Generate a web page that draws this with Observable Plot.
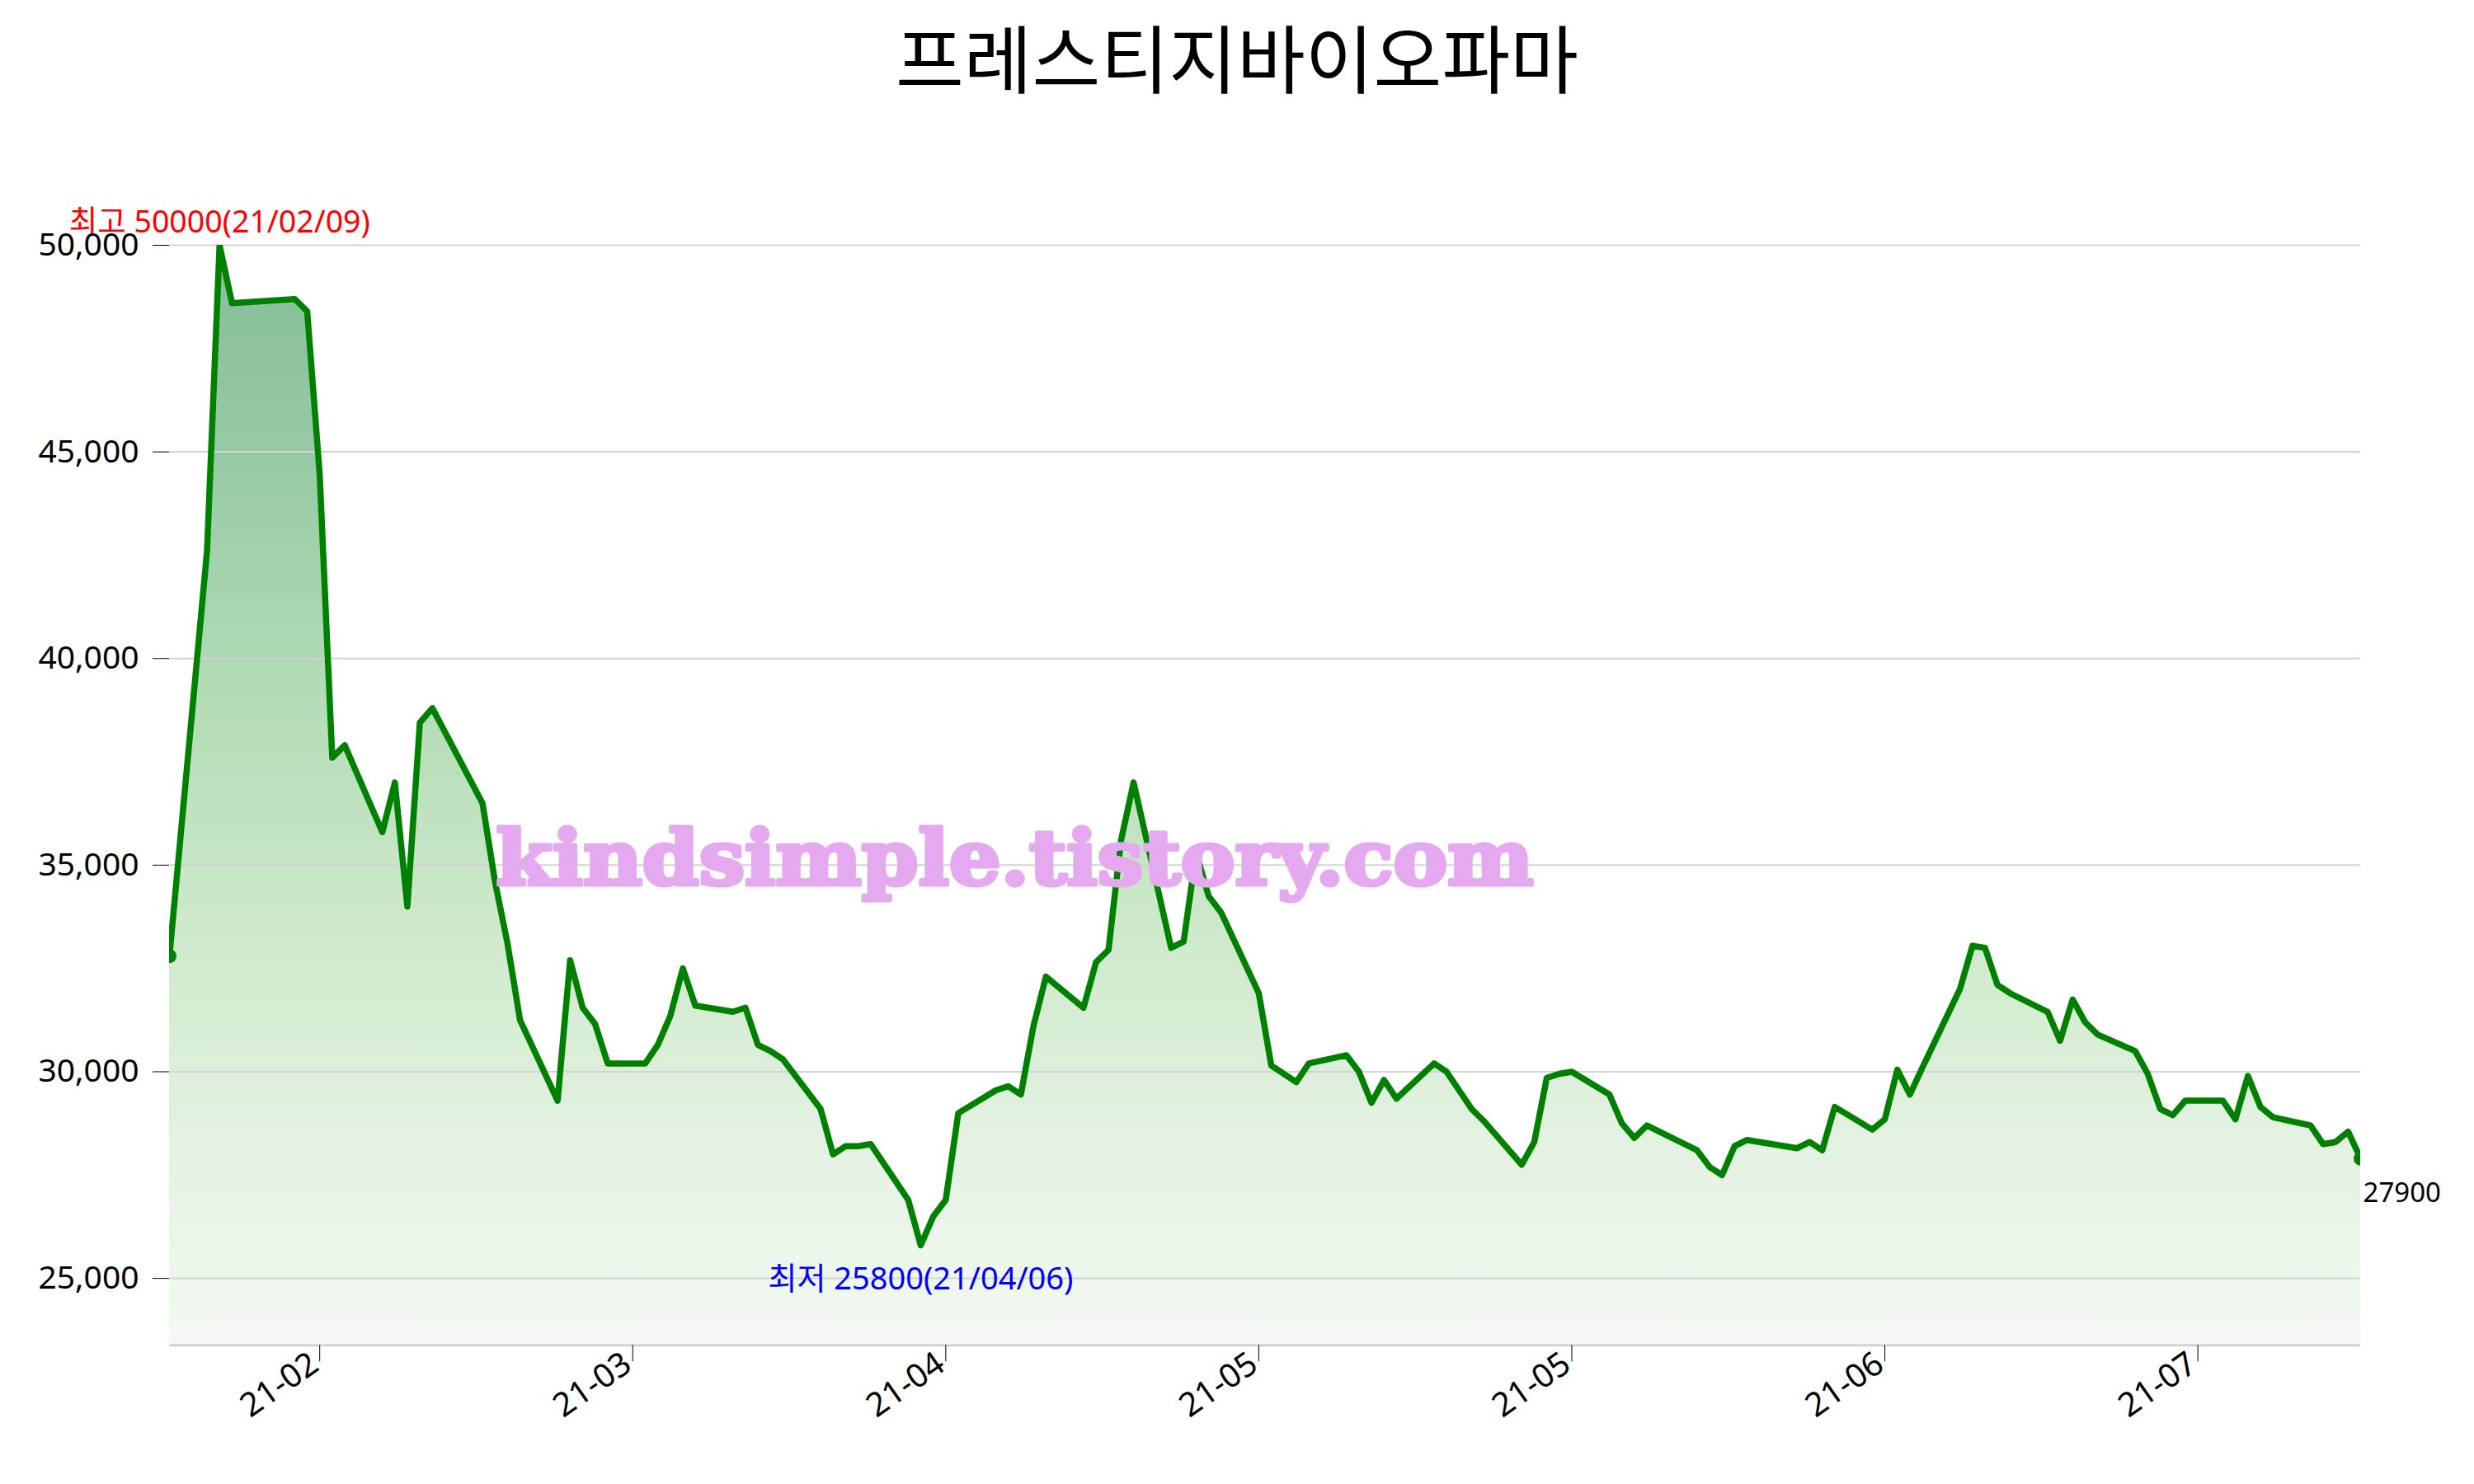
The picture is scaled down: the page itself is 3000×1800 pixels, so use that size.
<!DOCTYPE html>
<html>
<head>
<meta charset="utf-8">
<script src="https://cdn.jsdelivr.net/npm/d3@7"></script>
<script src="https://cdn.jsdelivr.net/npm/@observablehq/plot@0.6"></script>
<style>
  body { margin: 0; background: white; width: 3000px; }
  #title { height: 150px; line-height: 134px; text-align: center; font-size: 90px;
           font-family: "Noto Sans CJK KR", "Noto Sans", sans-serif; color: black; }
  #chart svg { display: block; }
</style>
</head>
<body>
<div id="title">프레스티지바이오파마</div>
<div id="chart"></div>
<script>
// ---- data ----
const dates = [
  "2021-02-05","2021-02-08","2021-02-09","2021-02-10","2021-02-15","2021-02-16","2021-02-17","2021-02-18","2021-02-19",
  "2021-02-22","2021-02-23","2021-02-24","2021-02-25","2021-02-26",
  "2021-03-02","2021-03-03","2021-03-04","2021-03-05","2021-03-08","2021-03-09","2021-03-10","2021-03-11","2021-03-12",
  "2021-03-15","2021-03-16","2021-03-17","2021-03-18","2021-03-19","2021-03-22","2021-03-23","2021-03-24","2021-03-25",
  "2021-03-26","2021-03-29","2021-03-30","2021-03-31",
  "2021-04-01","2021-04-02","2021-04-05","2021-04-06","2021-04-07","2021-04-08","2021-04-09","2021-04-12","2021-04-13",
  "2021-04-14","2021-04-15","2021-04-16","2021-04-19","2021-04-20","2021-04-21","2021-04-22","2021-04-23","2021-04-26",
  "2021-04-27","2021-04-28","2021-04-29","2021-04-30",
  "2021-05-03","2021-05-04","2021-05-06","2021-05-07","2021-05-10","2021-05-11","2021-05-12","2021-05-13","2021-05-14",
  "2021-05-17","2021-05-18","2021-05-20","2021-05-21","2021-05-24","2021-05-25","2021-05-26","2021-05-27","2021-05-28",
  "2021-05-31",
  "2021-06-01","2021-06-02","2021-06-03","2021-06-04","2021-06-07","2021-06-08","2021-06-09","2021-06-10","2021-06-11",
  "2021-06-14","2021-06-15","2021-06-16","2021-06-17","2021-06-18","2021-06-21","2021-06-22","2021-06-23","2021-06-24",
  "2021-06-25","2021-06-28","2021-06-29","2021-06-30",
  "2021-07-01","2021-07-02","2021-07-05","2021-07-06","2021-07-07","2021-07-08","2021-07-09","2021-07-12","2021-07-13",
  "2021-07-14","2021-07-15","2021-07-16","2021-07-19","2021-07-20","2021-07-21","2021-07-22","2021-07-23","2021-07-26",
  "2021-07-27","2021-07-28","2021-07-29","2021-07-30"
];
const closes = [
  32800,42600,50000,48600,48700,48400,44450,37600,37900,
  35800,37000,34000,38450,38800,
  36500,34600,33100,31250,29300,32700,31550,31150,30200,
  30200,30650,31350,32500,31600,31450,31550,30650,30500,
  30300,29100,28000,28200,
  28200,28250,26900,25800,26500,26900,29000,29550,29650,
  29450,31100,32300,31550,32650,32950,35600,37000,33000,
  33150,35300,34250,33850,
  31900,30150,29750,30200,30400,30000,29250,29800,29350,
  30200,30000,29100,28800,27750,28300,29850,29950,30000,
  29450,
  28750,28400,28700,28550,28100,27700,27500,28200,28350,
  28200,28150,28300,28100,29150,28600,28850,30050,29450,
  30100,32000,33050,33000,
  32100,31900,31450,30750,31750,31200,30900,30500,29950,
  29100,28950,29300,29300,28850,29900,29150,28900,28700,
  28250,28300,28550,27900
];
const xTickDates = ["2021-02-17","2021-03-14","2021-04-08","2021-05-03","2021-05-28","2021-06-22","2021-07-17"];
const yTickValues = [25000, 30000, 35000, 40000, 45000, 50000];
const titleText = "프레스티지바이오파마";
const watermarkText = "kindsimple.tistory.com";

// ---- build ----
document.getElementById("title").textContent = titleText;
const parse = d3.utcParse("%Y-%m-%d");
const data = dates.map((d, i) => ({date: parse(d), close: closes[i]}));
const xTicks = xTickDates.map(parse);
const maxV = d3.max(closes), minV = d3.min(closes);
const iMax = closes.indexOf(maxV), iMin = closes.indexOf(minV);
const yLow = minV - (maxV - minV) * 0.1;
const fmtDay = d3.utcFormat("%y/%m/%d");
const first = data[0], last = data[data.length - 1];
const maxLabel = [{...data[iMax], label: `최고 ${maxV}(${fmtDay(data[iMax].date)})`}];
const minLabel = [{...data[iMin], label: `최저 ${minV}(${fmtDay(data[iMin].date)})`}];
const lastLabel = [{...last, label: `${last.close}`}];

const chart = Plot.plot({
  width: 3000,
  height: 1650,
  marginTop: 147,
  marginBottom: 168.7,
  marginLeft: 205,
  marginRight: 138,
  style: {fontFamily: "'Noto Sans', 'Noto Sans CJK KR', sans-serif", fontSize: "38px", color: "black", background: "white", overflow: "visible"},
  x: {type: "utc", domain: d3.extent(data, d => d.date), label: null},
  y: {domain: [yLow, maxV], label: null},
  marks: [
    Plot.areaY(data, {x: "date", y1: yLow, y2: "close", fill: "url(#areaGrad)"}),
    Plot.gridY(yTickValues, {stroke: "#d3d3d3", strokeOpacity: 1, strokeWidth: 2}),
    Plot.ruleY([yLow], {stroke: "#d3d3d3", strokeWidth: 3}),
    Plot.lineY(data, {x: "date", y: "close", stroke: "green", strokeWidth: 7.5, strokeLinejoin: "round", strokeLinecap: "round", clip: true}),
    Plot.dot([first, last], {x: "date", y: "close", r: 8.5, fill: "green", clip: true}),
    Plot.text(maxLabel, {x: "date", y: "close", text: "label", fill: "red", fontSize: 37.5, lineAnchor: "bottom", dy: -16}),
    Plot.text(minLabel, {x: "date", y: "close", text: "label", fill: "blue", fontSize: 38, lineAnchor: "bottom", dy: 53}),
    Plot.text(lastLabel, {x: "date", y: "close", text: "label", fill: "black", fontSize: 33, textAnchor: "start", lineAnchor: "bottom", dx: 3, dy: 53}),
    Plot.axisY({ticks: yTickValues, tickFormat: d3.format(","), tickSize: 20, tickPadding: 17, fontSize: 39, label: null}),
    // tick marks
    Plot.axisX({ticks: xTicks, tickFormat: () => "", tickSize: 20, label: null}),
    // rotated tick labels
    Plot.axisX({ticks: xTicks, tickFormat: d3.utcFormat("%y-%m"), tickSize: 0, tickPadding: 18, tickRotate: -35, fontSize: 40, dx: -6, label: null}),
    Plot.text([watermarkText], {frameAnchor: "top-left", text: d => d, dx: 396, dy: 775, textAnchor: "start", lineAnchor: "bottom",
      fontSize: 92, fontWeight: "bold", fontFamily: "DejaVu Serif", fill: "#e4a9ef", stroke: "#e4a9ef", strokeWidth: 5, strokeLinejoin: "round"})
  ]
});

// gradient for the area fill
const defs = d3.select(chart).insert("defs", ":first-child");
const grad = defs.append("linearGradient").attr("id", "areaGrad").attr("x1", 0).attr("y1", 0).attr("x2", 0).attr("y2", 1);
[[0, "#86bd98"], [0.2, "#98caa6"], [0.4, "#b1dbb5"], [0.6, "#cbe8c8"], [0.8, "#e2f1e0"], [1, "#f4f9f3"]]
  .forEach(([o, c]) => grad.append("stop").attr("offset", o).attr("stop-color", c));

// fit watermark width
d3.select(chart).selectAll("text").filter(function() { return this.textContent === watermarkText; })
  .attr("textLength", 1258).attr("lengthAdjust", "spacingAndGlyphs");

document.getElementById("chart").appendChild(chart);
</script>
</body>
</html>
